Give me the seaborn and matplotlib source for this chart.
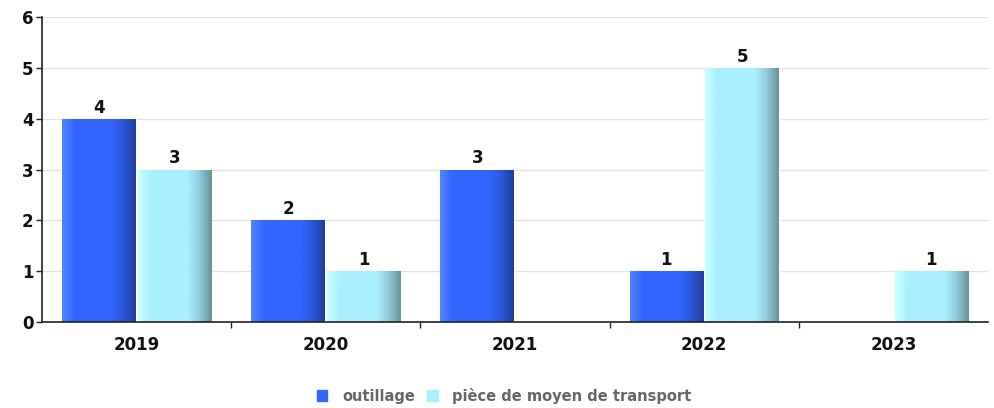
import numpy as np
import pandas as pd
import seaborn as sns
import matplotlib.pyplot as plt
from matplotlib.colors import LinearSegmentedColormap

years = ["2019", "2020", "2021", "2022", "2023"]
outillage = [4, 2, 3, 1, 0]
piece = [3, 1, 0, 5, 1]
series = ["outillage", "pièce de moyen de transport"]
colors = {"outillage": "#3366FF", "pièce de moyen de transport": "#AAF0FF"}

df = pd.DataFrame({
    "year": years * 2,
    "count": outillage + piece,
    "serie": [series[0]] * len(years) + [series[1]] * len(years),
})

sns.set_theme(style="white")
plt.rcParams["font.family"] = ["DejaVu Sans"]

fig = plt.figure(figsize=(9.94, 4.08), dpi=100)
ax = fig.add_axes([0.0423, 0.2108, 0.9517, 0.7475])

sns.barplot(data=df, x="year", y="count", hue="serie", palette=colors,
            width=0.8, gap=0.03, ax=ax, legend=False, saturation=1)

# gradient shading on each bar to imitate the 3D look
for patch in list(ax.patches):
    h = patch.get_height()
    if h <= 0:
        continue
    base = np.array(plt.matplotlib.colors.to_rgb(patch.get_facecolor()))
    light = np.clip(base + 0.12, 0, 1)
    dark = base * 0.6
    cmap = LinearSegmentedColormap.from_list(
        "g", [light, base, base, base, base, base * 0.85, dark], N=256)
    x0, y0 = patch.get_x(), patch.get_y()
    w = patch.get_width()
    grad = np.linspace(0, 1, 256).reshape(1, -1)
    im = ax.imshow(grad, cmap=cmap, extent=[x0, x0 + w, y0, y0 + h],
                   aspect="auto", zorder=patch.get_zorder(), origin="lower")
    im.set_clip_path(patch)
    ax.text(x0 + w / 2, h + 0.04, f"{int(h)}", ha="center", va="bottom",
            fontsize=12, fontweight="bold", color="#111111")

ax.set_xlim(-0.5, len(years) - 0.5)
ax.set_ylim(0, 6)
ax.set_yticks(range(0, 7))
ax.set_xlabel("")
ax.set_ylabel("")
ax.yaxis.grid(True, color="#e3e3e3", linewidth=1)
ax.set_axisbelow(True)

for s in ["top", "right"]:
    ax.spines[s].set_visible(False)
for s in ["left", "bottom"]:
    ax.spines[s].set_color("#222222")
    ax.spines[s].set_linewidth(1.2)

ax.tick_params(axis="y", which="major", left=True, length=4, width=1,
               color="#222222", labelsize=12, pad=2)
ax.tick_params(axis="x", which="major", bottom=False, labelsize=12, pad=4)
ax.set_xticks(np.arange(0.5, len(years) - 0.5), minor=True)
ax.tick_params(axis="x", which="minor", bottom=True, length=4, width=1,
               color="#222222")
for lab in ax.get_xticklabels() + ax.get_yticklabels():
    lab.set_fontweight("bold")
    lab.set_color("#111111")

handles = [plt.Rectangle((0, 0), 1, 1, color=colors[s]) for s in series]
fig.legend(handles, series, loc="center", bbox_to_anchor=(0.507, 0.03),
           ncol=2, frameon=False, handlelength=0.75, handleheight=0.75,
           columnspacing=0.8, handletextpad=1.0,
           prop={"weight": "bold", "size": 10.5}, labelcolor="#666666")

fig.savefig("out.png", dpi=100)
